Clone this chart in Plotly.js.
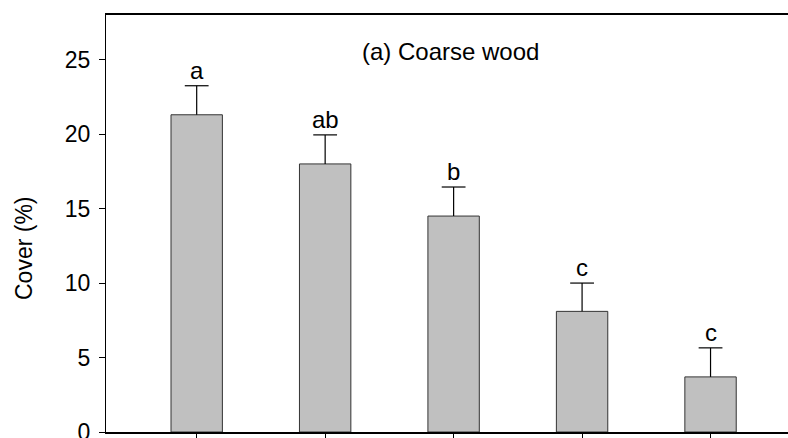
<!DOCTYPE html>
<html>
<head>
<meta charset="utf-8">
<script src="https://cdn.plot.ly/plotly-3.0.1.min.js"></script>
<style>html,body{margin:0;padding:0;background:#fff;}#chart{width:788px;height:438px;}</style>
</head>
<body>
<div id="chart"></div>
<script>
const categories = ['Site 1', 'Site 2', 'Site 3', 'Site 4', 'Site 5'];
const coverMean = [21.3, 18.0, 14.5, 8.1, 3.7];
const coverSE = [1.95, 1.95, 1.95, 1.9, 1.95];
const groupLetters = ['a', 'ab', 'b', 'c', 'c'];
const yTicks = [0, 5, 10, 15, 20, 25];
const panelTitle = '(a) Coarse wood';
const yTitle = 'Cover (%)';

const FONT = 'Arial, "Liberation Sans", sans-serif';
const errTop = coverMean.map((m, i) => m + coverSE[i]);

const bars = {
  type: 'bar',
  x: categories,
  y: coverMean,
  width: 0.4,
  marker: {color: '#c0c0c0', line: {color: '#333333', width: 1}},
  error_y: {type: 'data', array: coverSE, arrayminus: coverSE.map(() => 0), symmetric: false,
            color: '#000000', thickness: 1.2, width: 0},
  hoverinfo: 'skip'
};

const caps = {
  type: 'scatter', mode: 'markers',
  x: categories, y: errTop,
  marker: {symbol: 'line-ew', size: 17, color: '#000', line: {color: '#000', width: 1.2}},
  hoverinfo: 'skip', cliponaxis: false
};

const annotations = categories.map((c, i) => ({
  x: i, y: errTop[i], xref: 'x', yref: 'y',
  text: groupLetters[i], showarrow: false, yanchor: 'bottom', yshift: 0,
  font: {family: FONT, size: 24, color: '#000'}
}));
annotations.push({
  xref: 'paper', yref: 'paper', x: (450 - 106) / 682, y: (432 - 51) / 417,
  xanchor: 'center', yanchor: 'middle', showarrow: false, text: panelTitle,
  font: {family: FONT, size: 24, color: '#000'}
});
annotations.push({
  xref: 'paper', yref: 'paper', x: (24 - 106) / 682, y: (432 - 248) / 417,
  xanchor: 'center', yanchor: 'middle', showarrow: false, text: yTitle, textangle: -90,
  font: {family: FONT, size: 23, color: '#000'}
});

const layout = {
  width: 788, height: 438,
  margin: {l: 106, r: 0, t: 15, b: 6, pad: 0},
  paper_bgcolor: '#ffffff', plot_bgcolor: '#ffffff',
  showlegend: false,
  font: {family: FONT, color: '#000'},
  xaxis: {
    type: 'category', range: [-0.706, 4.603],
    showticklabels: false, ticks: 'outside', ticklen: 5, tickwidth: 1, tickcolor: '#000',
    showline: true, linecolor: '#000', linewidth: 2, mirror: true,
    showgrid: false, zeroline: false, fixedrange: true
  },
  yaxis: {
    range: [0, 28], tickvals: yTicks, ticktext: yTicks.map(String),
    ticks: 'outside', ticklen: 6, tickwidth: 1, tickcolor: '#000',
    tickfont: {family: FONT, size: 23, color: '#000'},
    ticklabelstandoff: 4, ticklabeloverflow: 'allow',
    showline: true, linecolor: '#000', linewidth: 1,
    showgrid: false, zeroline: false, fixedrange: true
  },
  annotations: annotations
};

Plotly.newPlot('chart', [bars, caps], layout, {displayModeBar: false, staticPlot: true});
</script>
</body>
</html>
